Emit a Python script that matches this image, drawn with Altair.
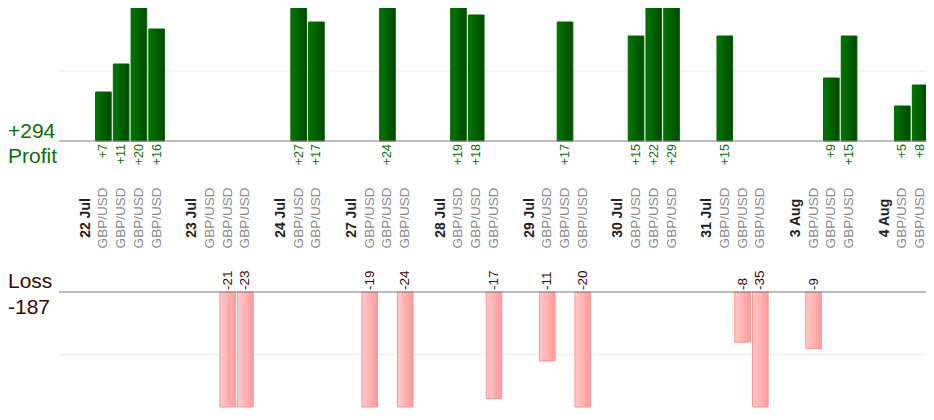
import altair as alt
import pandas as pd

# ---- data ----
dates = ["22 Jul", "23 Jul", "24 Jul", "27 Jul", "28 Jul",
         "29 Jul", "30 Jul", "31 Jul", "3 Aug", "4 Aug"]
results = [
    [7, 11, 20, 16],
    [0, -21, -23],
    [27, 17],
    [-19, 24, -24],
    [19, 18, -17],
    [-11, 17, -20],
    [15, 22, 29],
    [15, -8, -35],
    [-9, 9, 15],
    [5, 8],
]
symbol = "GBP/USD"

# ---- build slot table (blank / date header / trade) ----
rows = []
slot = 0
rows.append({"slot": slot, "kind": "blank", "label": "", "value": 0}); slot += 1
for i, (d, trades) in enumerate(zip(dates, results)):
    if i > 0:
        rows.append({"slot": slot, "kind": "blank", "label": "", "value": 0}); slot += 1
    rows.append({"slot": slot, "kind": "date", "label": d, "value": 0}); slot += 1
    for v in trades:
        rows.append({"slot": slot, "kind": "trade", "label": symbol, "value": v}); slot += 1
df = pd.DataFrame(rows)
df["profit"] = df["value"].clip(lower=0)
df["loss"] = (-df["value"]).clip(lower=0)
df["ptxt"] = df["profit"].map(lambda v: f"+{v}")
df["ltxt"] = df["loss"].map(lambda v: f"-{v}")
n_slots = len(df)

total_profit = int(df["profit"].sum())
total_loss = int(df["loss"].sum())

FONT = "Liberation Sans"
GREEN_TXT = "#087008"
LOSS_TXT = "#3a0808"
LEFT_PAD = 51

def top_scale(clamp=True):
    return alt.Scale(domain=[0, 19], range=[133, 0], clamp=clamp)

def bot_scale(clamp=True):
    return alt.Scale(domain=[0, 18.33], range=[284, 399], clamp=clamp)

xenc = alt.X("slot:O", scale=alt.Scale(domain=list(range(n_slots)), range=[0, 870],
                                       paddingInner=0.12, paddingOuter=0.06),
             axis=None)

base = alt.Chart(df)

green_grad = {"gradient": "linear", "x1": 0, "x2": 1, "y1": 0, "y2": 0,
              "stops": [{"offset": 0, "color": "#007800"},
                        {"offset": 1, "color": "#004800"}]}
pink_grad = {"gradient": "linear", "x1": 0, "x2": 1, "y1": 0, "y2": 0,
             "stops": [{"offset": 0, "color": "#ffcaca"},
                       {"offset": 1, "color": "#ff9a9a"}]}

grid = pd.DataFrame({"g": [10]})
zero = pd.DataFrame({"z": [0]})

grid_top = alt.Chart(grid).mark_rule(color="#ececec", strokeWidth=1).encode(
    y=alt.Y("g:Q", scale=top_scale(), axis=None))
grid_bot = alt.Chart(grid).mark_rule(color="#ececec", strokeWidth=1).encode(
    y=alt.Y("g:Q", scale=bot_scale(), axis=None))

top_bars = base.transform_filter("datum.profit > 0").mark_bar(
    fill=green_grad, stroke="#006400", strokeWidth=1).encode(
    x=xenc, y=alt.Y("profit:Q", scale=top_scale(), axis=None))

bot_bars = base.transform_filter("datum.loss > 0").mark_bar(
    fill=pink_grad, stroke="#ff9494", strokeWidth=1).encode(
    x=xenc, y=alt.Y("loss:Q", scale=bot_scale(), axis=None))

line_top = alt.Chart(zero).mark_rule(color="#7f7f7f", strokeWidth=1.2).encode(
    y=alt.Y("z:Q", scale=top_scale(), axis=None))
line_bot = alt.Chart(zero).mark_rule(color="#7f7f7f", strokeWidth=1.2).encode(
    y=alt.Y("z:Q", scale=bot_scale(), axis=None))

profit_lbl = base.transform_filter("datum.profit > 0").mark_text(
    angle=270, align="right", baseline="middle", dx=-3,
    font=FONT, fontSize=12.5, color=GREEN_TXT).encode(
    x=xenc, y=alt.YDatum(0, scale=top_scale(False), axis=None), text="ptxt:N")

loss_lbl = base.transform_filter("datum.loss > 0").mark_text(
    angle=270, align="left", baseline="middle", dx=2,
    font=FONT, fontSize=13.5, color=LOSS_TXT).encode(
    x=xenc, y=alt.YDatum(0, scale=bot_scale(False), axis=None), text="ltxt:N")

date_lbl = base.transform_filter("datum.kind == 'date'").mark_text(
    angle=270, align="center", baseline="middle",
    font=FONT, fontSize=14, fontWeight="bold", color="#222222").encode(
    x=xenc, y=alt.value(210), text="label:N")

sym_lbl = base.transform_filter("datum.kind == 'trade'").mark_text(
    angle=270, align="center", baseline="middle",
    font=FONT, fontSize=13.5, color="#8a8a8a").encode(
    x=xenc, y=alt.value(210), text="label:N")

summary = pd.DataFrame({
    "txt": [f"+{total_profit}", "Profit", "Loss", f"-{total_loss}"],
    "col": [GREEN_TXT, GREEN_TXT, LOSS_TXT, LOSS_TXT],
    "ypos": [130, 155, 280, 306],
})
summary_lbl = alt.Chart(summary).mark_text(
    align="left", baseline="alphabetic", font=FONT, fontSize=21).encode(
    x=alt.value(-LEFT_PAD),
    y=alt.Y("ypos:Q", scale=alt.Scale(domain=[0, 399], range=[0, 399]), axis=None),
    text="txt:N",
    color=alt.Color("col:N", scale=None))

chart = alt.layer(
    grid_top, grid_bot, top_bars, bot_bars, line_top, line_bot,
    profit_lbl, loss_lbl, date_lbl, sym_lbl, summary_lbl
).resolve_scale(y="independent").properties(
    width=918 - LEFT_PAD, height=399,
    autosize=alt.AutoSizeParams(type="none"),
    padding={"left": LEFT_PAD, "top": 0, "right": 0, "bottom": 1},
    background="white",
).configure_view(stroke=None)

chart.save("out.html", embed_options={"renderer": "svg", "actions": False})
